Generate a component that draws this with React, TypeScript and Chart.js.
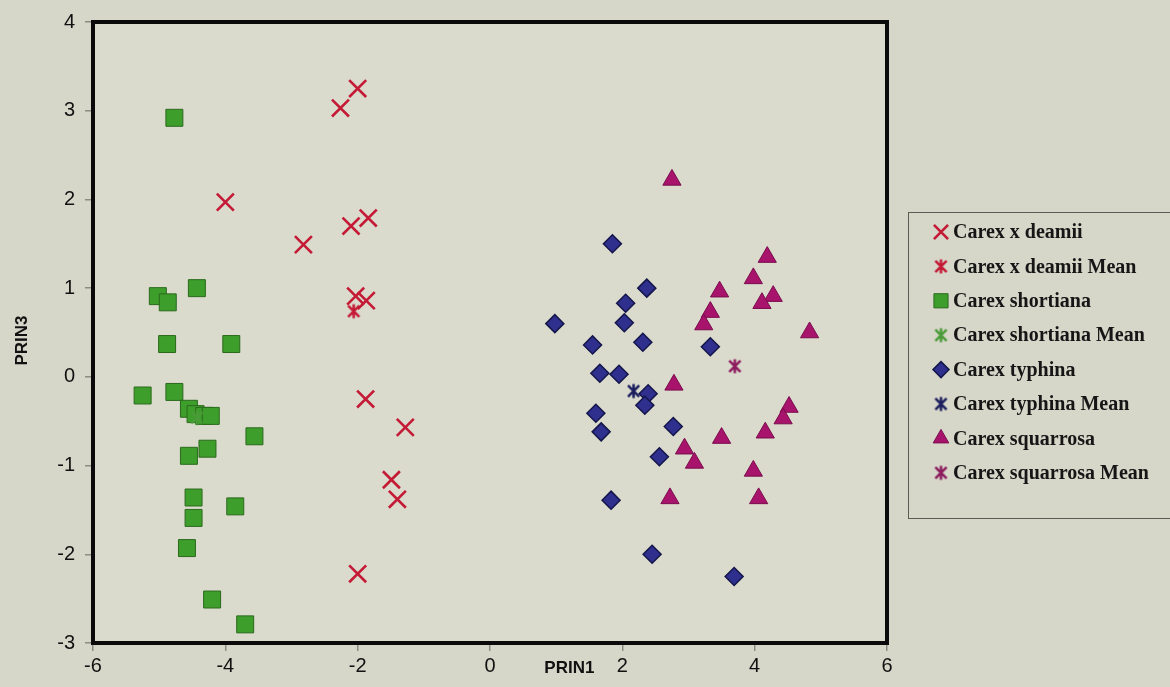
import React, { useEffect, useRef } from 'react';
import { Chart, registerables } from 'chart.js';
import { drawPoint } from 'chart.js/helpers';

Chart.register(...registerables);

// ---- data ----
const xTickValues = [-6, -4, -2, 0, 2, 4, 6];
const yTickValues = [-3, -2, -1, 0, 1, 2, 3, 4];

const seriesNames = [
  'Carex x deamii',
  'Carex x deamii Mean',
  'Carex shortiana',
  'Carex shortiana Mean',
  'Carex typhina',
  'Carex typhina Mean',
  'Carex squarrosa',
  'Carex squarrosa Mean',
];

const deamiiX = [-2.0, -2.26, -4.0, -2.82, -2.1, -1.84, -2.03, -1.87, -1.88, -1.28, -1.49, -1.4, -2.0];
const deamiiY = [3.25, 3.03, 1.97, 1.49, 1.7, 1.79, 0.91, 0.86, -0.25, -0.57, -1.16, -1.38, -2.22];
const deamiiMeanX = [-2.06];
const deamiiMeanY = [0.74];

const shortianaX = [-4.77, -5.02, -4.87, -4.43, -4.88, -3.91, -5.25, -4.77, -4.55, -4.45, -4.32, -4.22, -3.56, -4.27, -4.55, -4.48, -3.85, -4.48, -4.58, -4.2, -3.7];
const shortianaY = [2.92, 0.91, 0.84, 1.0, 0.37, 0.37, -0.21, -0.17, -0.36, -0.42, -0.44, -0.44, -0.67, -0.81, -0.89, -1.36, -1.46, -1.59, -1.93, -2.51, -2.79];
const shortianaMeanX = [-4.43];
const shortianaMeanY = [-0.46];

const typhinaX = [1.85, 2.37, 2.05, 2.03, 0.98, 1.55, 2.31, 3.33, 1.66, 1.95, 2.39, 2.34, 1.6, 1.68, 2.77, 2.56, 1.83, 2.45, 3.69];
const typhinaY = [1.5, 1.0, 0.83, 0.61, 0.6, 0.36, 0.39, 0.34, 0.04, 0.03, -0.19, -0.32, -0.41, -0.62, -0.56, -0.9, -1.39, -2.0, -2.25];
const typhinaMeanX = [2.17];
const typhinaMeanY = [-0.16];

const squarrosaX = [2.75, 4.19, 3.98, 3.47, 4.28, 4.11, 3.33, 3.23, 4.83, 2.78, 4.52, 4.43, 4.16, 3.5, 2.94, 3.09, 3.98, 2.72, 4.06];
const squarrosaY = [2.22, 1.35, 1.11, 0.96, 0.91, 0.83, 0.73, 0.59, 0.5, -0.09, -0.34, -0.47, -0.63, -0.69, -0.81, -0.97, -1.06, -1.37, -1.37];
const squarrosaMeanX = [3.7];
const squarrosaMeanY = [0.12];

const xTitle = 'PRIN1';
const yTitle = 'PRIN3';

// ---- styles ----
const PAGE_BG = '#d6d6c9';
const PLOT_BG = '#dadacd';

function pts(xs: number[], ys: number[]) {
  return xs.map((x, i) => ({ x, y: ys[i] }));
}

function makeAsterisk(color: string, size: number, lw: number): HTMLCanvasElement {
  const c = document.createElement('canvas');
  c.width = size;
  c.height = size;
  const g = c.getContext('2d')!;
  g.strokeStyle = color;
  g.lineWidth = lw;
  g.lineCap = 'butt';
  const m = size / 2;
  const a = size / 2 - 1.5;
  const d = a * 0.8;
  g.beginPath();
  g.moveTo(m - d, m - d);
  g.lineTo(m + d, m + d);
  g.moveTo(m + d, m - d);
  g.lineTo(m - d, m + d);
  g.moveTo(m, m - a);
  g.lineTo(m, m + a);
  g.stroke();
  return c;
}

const framePlugin = {
  id: 'frameAndTitles',
  beforeDraw(chart: any) {
    const { ctx, chartArea: a } = chart;
    ctx.save();
    ctx.fillStyle = PAGE_BG;
    ctx.fillRect(0, 0, chart.width, chart.height);
    ctx.fillStyle = PLOT_BG;
    ctx.fillRect(a.left, a.top, a.right - a.left, a.bottom - a.top);
    ctx.restore();
  },
  afterDraw(chart: any) {
    const { ctx, chartArea: a } = chart;
    ctx.save();
    ctx.strokeStyle = '#0a0a0a';
    ctx.lineWidth = 4;
    ctx.strokeRect(a.left, a.top, a.right - a.left, a.bottom - a.top);

    // axis titles
    ctx.fillStyle = '#111';
    ctx.font = 'bold 17px "Liberation Sans", Arial, sans-serif';
    ctx.textAlign = 'center';
    ctx.textBaseline = 'middle';
    ctx.fillText(xTitle, a.left + (a.right - a.left) * 0.6, a.bottom + 25);
    ctx.translate(22, a.top + (a.bottom - a.top) * 0.513);
    ctx.rotate(-Math.PI / 2);
    ctx.fillText(yTitle, 0, 0);
    ctx.restore();

    // legend
    ctx.save();
    const lx = 908;
    const ly = 212;
    ctx.strokeStyle = '#5b5b56';
    ctx.lineWidth = 1;
    ctx.strokeRect(lx + 0.5, ly + 0.5, 320, 306);
    chart.data.datasets.forEach((ds: any, i: number) => {
      const y = ly + 20 + i * 34.4;
      ctx.fillStyle = ds.pointBackgroundColor;
      ctx.strokeStyle = ds.pointBorderColor;
      ctx.lineWidth = ds.pointBorderWidth;
      drawPoint(ctx, {
        pointStyle: ds.pointStyle,
        radius: ds.legendRadius,
        rotation: 0,
        borderWidth: ds.pointBorderWidth,
      } as any, lx + 33, y);
      ctx.fillStyle = '#161616';
      ctx.font = 'bold 20px "Liberation Serif", "DejaVu Serif", serif';
      ctx.textAlign = 'left';
      ctx.textBaseline = 'middle';
      ctx.fillText(ds.label, lx + 45, y + 1);
    });
    ctx.restore();
  },
};

export default function App() {
  const ref = useRef<HTMLCanvasElement>(null);

  useEffect(() => {
    document.body.style.margin = '0';
    document.body.style.background = PAGE_BG;
    const red = '#c41a36';
    const aDeamii = makeAsterisk(red, 17, 2.5);
    const aShort = makeAsterisk('#4a9c38', 17, 2.5);
    const aTyph = makeAsterisk('#1c1f5e', 17, 2.5);
    const aSquar = makeAsterisk('#8c1c5e', 17, 2.5);

    const datasets: any[] = [
      {
        label: seriesNames[0], data: pts(deamiiX, deamiiY),
        pointStyle: 'crossRot', pointRadius: 12, legendRadius: 10,
        pointBackgroundColor: red, pointBorderColor: red, pointBorderWidth: 2.6, order: 1,
      },
      {
        label: seriesNames[1], data: pts(deamiiMeanX, deamiiMeanY),
        pointStyle: aDeamii, pointRadius: 8, legendRadius: 8,
        pointBackgroundColor: red, pointBorderColor: red, pointBorderWidth: 2.5, order: 0,
      },
      {
        label: seriesNames[2], data: pts(shortianaX, shortianaY),
        pointStyle: 'rect', pointRadius: 12, legendRadius: 10,
        pointBackgroundColor: '#3e9e2c', pointBorderColor: '#2a6a1c', pointBorderWidth: 1, order: 1,
      },
      {
        label: seriesNames[3], data: pts(shortianaMeanX, shortianaMeanY),
        pointStyle: aShort, pointRadius: 8, legendRadius: 8,
        pointBackgroundColor: '#4a9c38', pointBorderColor: '#4a9c38', pointBorderWidth: 2.5, order: 0,
      },
      {
        label: seriesNames[4], data: pts(typhinaX, typhinaY),
        pointStyle: 'rectRot', pointRadius: 9, legendRadius: 8,
        pointBackgroundColor: '#2f2f8e', pointBorderColor: '#14164a', pointBorderWidth: 1.5, order: 1,
      },
      {
        label: seriesNames[5], data: pts(typhinaMeanX, typhinaMeanY),
        pointStyle: aTyph, pointRadius: 8, legendRadius: 8,
        pointBackgroundColor: '#1c1f5e', pointBorderColor: '#1c1f5e', pointBorderWidth: 2.5, order: 0,
      },
      {
        label: seriesNames[6], data: pts(squarrosaX, squarrosaY),
        pointStyle: 'triangle', pointRadius: 10.5, legendRadius: 9,
        pointBackgroundColor: '#a8136c', pointBorderColor: '#7a0c4c', pointBorderWidth: 1, order: 1,
      },
      {
        label: seriesNames[7], data: pts(squarrosaMeanX, squarrosaMeanY),
        pointStyle: aSquar, pointRadius: 8, legendRadius: 8,
        pointBackgroundColor: '#8c1c5e', pointBorderColor: '#8c1c5e', pointBorderWidth: 2.5, order: 0,
      },
    ];
    datasets.forEach((d) => {
      d.showLine = false;
      d.pointHoverRadius = d.pointRadius;
    });

    const chart = new Chart(ref.current!, {
      type: 'scatter',
      data: { datasets },
      options: {
        responsive: false,
        animation: false,
        devicePixelRatio: 1,
        layout: { padding: { left: 0, top: 17, right: 283, bottom: 0 } },
        plugins: { legend: { display: false }, tooltip: { enabled: false }, title: { display: false } },
        scales: {
          x: {
            type: 'linear', min: -6, max: 6,
            afterBuildTicks: (s: any) => { s.ticks = xTickValues.map((v) => ({ value: v })); },
            afterFit: (s: any) => { s.height = 44; },
            ticks: { color: '#111', font: { family: '"Liberation Sans", Arial, sans-serif', size: 20 }, padding: 3, maxRotation: 0 },
            grid: { drawOnChartArea: false, drawTicks: true, tickLength: 8, color: '#8d8c82', lineWidth: 1.5 },
            border: { display: false },
          },
          y: {
            type: 'linear', min: -3, max: 4,
            afterBuildTicks: (s: any) => { s.ticks = yTickValues.map((v) => ({ value: v })); },
            afterFit: (s: any) => { s.width = 93; },
            ticks: { color: '#111', font: { family: '"Liberation Sans", Arial, sans-serif', size: 20 }, padding: 10 },
            grid: { drawOnChartArea: false, drawTicks: true, tickLength: 8, color: '#8d8c82', lineWidth: 1.5 },
            border: { display: false },
          },
        },
      } as any,
      plugins: [framePlugin as any],
    });
    return () => chart.destroy();
  }, []);

  return (
    <div style={{ position: 'fixed', left: 0, top: 0, width: 1170, height: 687, background: PAGE_BG }}>
      <canvas ref={ref} width={1170} height={687} style={{ display: 'block' }} />
    </div>
  );
}
